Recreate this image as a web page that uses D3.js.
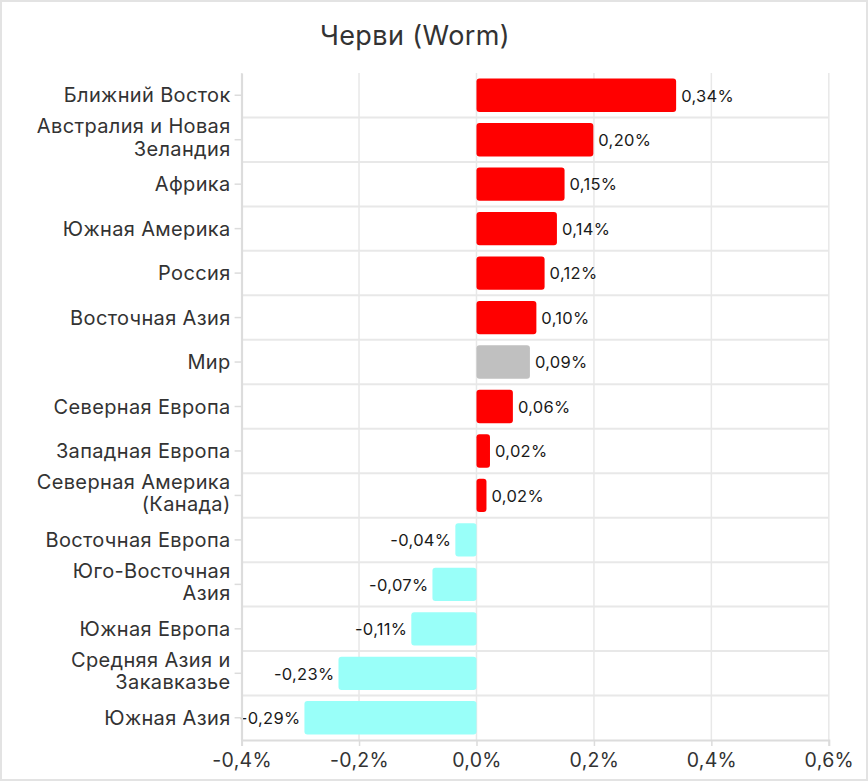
<!DOCTYPE html>
<html>
<head>
<meta charset="utf-8">
<script src="https://cdn.jsdelivr.net/npm/d3@7"></script>
<style>
  body { margin: 0; background: #fff; }
  svg { display: block; font-family: "Inter", "Noto Sans", sans-serif; }
</style>
</head>
<body>
<div id="chart"></div>
<script>
// Datos: cambio por región (en %)
const categories = [
  "Ближний Восток", "Австралия и Новая Зеландия", "Африка", "Южная Америка",
  "Россия", "Восточная Азия", "Мир", "Северная Европа", "Западная Европа",
  "Северная Америка (Канада)", "Восточная Европа", "Юго-Восточная Азия",
  "Южная Европа", "Средняя Азия и Закавказье", "Южная Азия"
];
const values = [0.34, 0.199, 0.15, 0.137, 0.116, 0.102, 0.091, 0.062, 0.023, 0.017,
  -0.036, -0.075, -0.111, -0.235, -0.293];
const xTicks = [-0.4, -0.2, 0.0, 0.2, 0.4, 0.6];
const title = "Черви (Worm)";

const data = categories.map((c, i) => ({ cat: c, value: values[i] }));

const width = 868;
const height = 781;
const plotTop = 73, plotBottom = 740;
const labelSize = 20;

const svg = d3.select("#chart").append("svg")
  .attr("width", width)
  .attr("height", height);

// marco gris
svg.append("rect")
  .attr("x", 1).attr("y", 1)
  .attr("width", width - 2).attr("height", height - 2)
  .attr("fill", "#fff")
  .attr("stroke", "#e3e3e3")
  .attr("stroke-width", 2);

const x = d3.scaleLinear()
  .domain([-0.4, 0.6])
  .range([241.6, 828.8]);

const y = d3.scaleBand()
  .domain(categories)
  .range([plotTop, plotBottom])
  .paddingInner(0.25)
  .paddingOuter(0.125);

const gap = (y.step() - y.bandwidth()) / 2;

// cuadrícula vertical
svg.append("g")
  .selectAll("line")
  .data(xTicks)
  .join("line")
  .attr("x1", d => x(d)).attr("x2", d => x(d))
  .attr("y1", plotTop).attr("y2", plotBottom)
  .attr("stroke", "#e8e8e8")
  .attr("stroke-width", 1.5);

// separadores horizontales entre categorías
svg.append("g")
  .selectAll("line")
  .data(categories.slice(1))
  .join("line")
  .attr("x1", x(-0.4)).attr("x2", x(0.6))
  .attr("y1", d => y(d) - gap)
  .attr("y2", d => y(d) - gap)
  .attr("stroke", "#e8e8e8")
  .attr("stroke-width", 2);

// barras
svg.append("g")
  .selectAll("rect")
  .data(data)
  .join("rect")
  .attr("x", d => x(Math.min(0, d.value)))
  .attr("y", d => y(d.cat))
  .attr("width", d => Math.abs(x(d.value) - x(0)))
  .attr("height", y.bandwidth())
  .attr("rx", 3)
  .attr("fill", d => d.cat === "Мир" ? "#c0c0c0" : (d.value >= 0 ? "#ff0000" : "#99fff9"));

// etiquetas de valores
const fmt = v => v.toFixed(2).replace(".", ",") + "%";
svg.append("g")
  .selectAll("text")
  .data(data)
  .join("text")
  .attr("x", d => d.value >= 0 ? x(d.value) + 5 : x(d.value) - 4)
  .attr("y", d => y(d.cat) + y.bandwidth() / 2)
  .attr("dy", "0.38em")
  .attr("text-anchor", d => d.value >= 0 ? "start" : "end")
  .style("font-size", "16.5px")
  .style("letter-spacing", "0.3px")
  .attr("fill", "#1a1a1a")
  .text(d => fmt(d.value));

// eje X
const xAxis = svg.append("g")
  .attr("transform", `translate(0, ${plotBottom})`)
  .call(d3.axisBottom(x)
    .tickValues(xTicks)
    .tickSize(6)
    .tickPadding(7)
    .tickFormat(d => d.toFixed(1).replace(".", ",") + "%"));
xAxis.select(".domain").attr("stroke", "#dcdcdc").attr("stroke-width", 2);
xAxis.selectAll(".tick line").attr("stroke", "#dcdcdc").attr("stroke-width", 1.5);
xAxis.selectAll(".tick text")
  .style("font-size", "19.5px")
  .style("letter-spacing", "0.3px")
  .style("font-family", "Inter, 'Noto Sans', sans-serif")
  .attr("fill", "#333");

// eje Y
const yAxis = svg.append("g")
  .attr("transform", `translate(${x(-0.4)}, 0)`)
  .call(d3.axisLeft(y).tickSize(7).tickPadding(4).tickSizeOuter(0));
yAxis.select(".domain").attr("stroke", "#dcdcdc").attr("stroke-width", 2);
yAxis.selectAll(".tick line").attr("stroke", "#dcdcdc").attr("stroke-width", 1.5);
yAxis.selectAll(".tick text")
  .style("font-size", labelSize + "px")
  .style("letter-spacing", "0.35px")
  .style("font-family", "Inter, 'Noto Sans', sans-serif")
  .attr("fill", "#333")
  .attr("x", -11)
  .each(function(d) { wrap(d3.select(this), d, 198); });

// partir etiquetas largas en dos líneas
function wrap(textSel, label, maxWidth) {
  const words = label.split(" ");
  textSel.text(null);
  let lines = [];
  let line = [];
  const probe = textSel.append("tspan");
  words.forEach(w => {
    line.push(w);
    probe.text(line.join(" "));
    if (probe.node().getComputedTextLength() > maxWidth && line.length > 1) {
      line.pop();
      lines.push(line.join(" "));
      line = [w];
    }
  });
  lines.push(line.join(" "));
  probe.remove();
  const lh = 22.5;
  const x0 = textSel.attr("x");
  textSel.attr("dy", null);
  const shift = lines.length > 1 ? -2.5 : 0;
  lines.forEach((l, i) => {
    textSel.append("tspan")
      .attr("x", x0)
      .attr("dy", i === 0 ? (0.36 * labelSize - (lines.length - 1) * lh / 2 + shift) + "px" : lh + "px")
      .text(l);
  });
}

// título
svg.append("text")
  .attr("x", 415)
  .attr("y", 45)
  .attr("text-anchor", "middle")
  .style("font-size", "27px")
  .style("letter-spacing", "0.4px")
  .attr("fill", "#333")
  .text(title);
</script>
</body>
</html>
